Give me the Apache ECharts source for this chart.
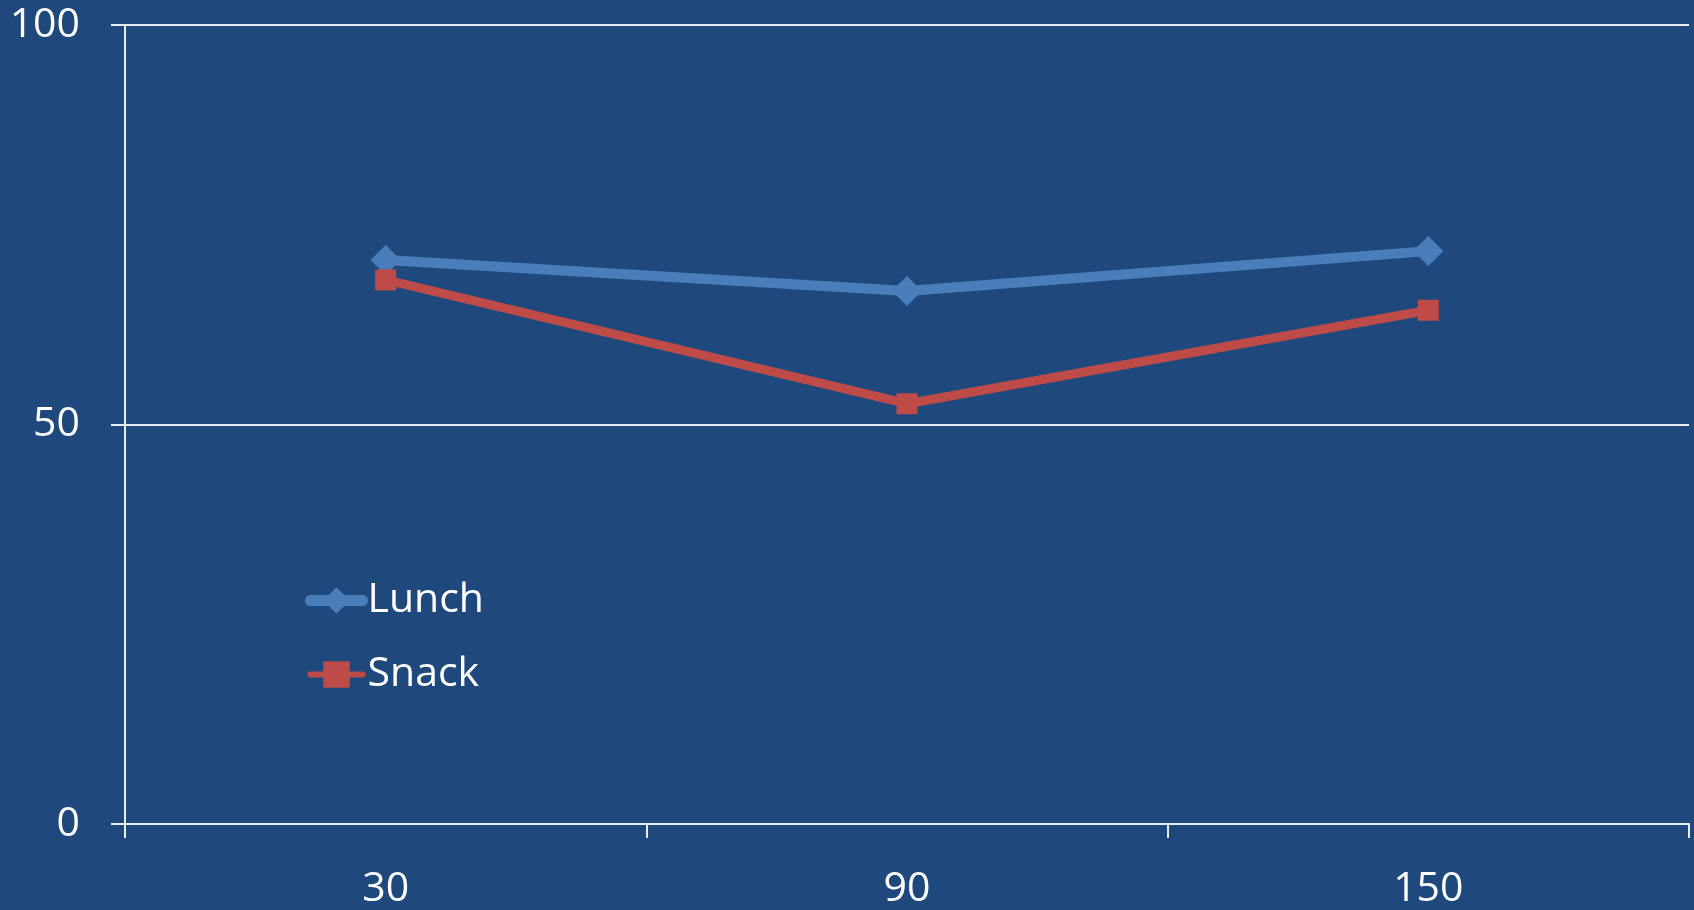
<!DOCTYPE html>
<html>
<head>
<meta charset="utf-8">
<script src="https://cdn.jsdelivr.net/npm/echarts@6/dist/echarts.min.js"></script>
<style>
  html, body { margin: 0; padding: 0; background: #1F497D; }
  #chart { width: 1694px; height: 910px; }
</style>
</head>
<body>
<div id="chart"></div>
<script>
// Minutes after the meal
const categories = ['30', '90', '150'];
// Measured values per meal
const lunchValues = [70.6, 66.7, 71.7];
const snackValues = [68.1, 52.6, 64.3];
// Value axis labels
const yTicks = [0, 50, 100];

const font = '"Open Sans", "Liberation Sans", sans-serif';
const axisColor = '#E8EDF4';
const lunchColor = '#4A7EBB';
const snackColor = '#BE4B48';

const chart = echarts.init(document.getElementById('chart'), null, { renderer: 'canvas' });

chart.setOption({
  backgroundColor: '#1F497D',
  animation: false,
  grid: { left: 125, right: 5, top: 25, bottom: 83 },
  legend: {
    orient: 'vertical',
    left: 300,
    top: 575,
    itemGap: 33,
    itemWidth: 52,
    itemHeight: 33,
    textStyle: { color: '#FFFFFF', fontSize: 41, fontFamily: font },
    data: [
      { name: 'Lunch', lineStyle: { color: lunchColor, width: 11, cap: 'round' } },
      { name: 'Snack', lineStyle: { color: snackColor, width: 6, cap: 'round' } }
    ]
  },
  xAxis: {
    type: 'category',
    data: categories,
    boundaryGap: true,
    axisLine: { lineStyle: { color: axisColor, width: 2 } },
    axisTick: { show: true, length: 14, inside: false, lineStyle: { color: axisColor, width: 2 } },
    axisLabel: { color: '#FFFFFF', fontSize: 41, fontFamily: font, margin: 45 },
    splitLine: { show: false }
  },
  yAxis: {
    type: 'value',
    min: yTicks[0],
    max: yTicks[yTicks.length - 1],
    interval: yTicks[1] - yTicks[0],
    axisLine: { show: true, lineStyle: { color: axisColor, width: 2 } },
    axisTick: { show: true, length: 14, lineStyle: { color: axisColor, width: 2 } },
    axisLabel: { color: '#FFFFFF', fontSize: 41, fontFamily: font, margin: 45 },
    splitLine: { show: true, lineStyle: { color: axisColor, width: 2 } }
  },
  series: [
    {
      name: 'Lunch',
      type: 'line',
      data: lunchValues,
      symbol: 'diamond',
      symbolSize: [30, 30],
      lineStyle: { color: lunchColor, width: 10, cap: 'round' },
      itemStyle: { color: lunchColor },
      z: 3
    },
    {
      name: 'Snack',
      type: 'line',
      data: snackValues,
      symbol: 'rect',
      symbolSize: [21, 21],
      lineStyle: { color: snackColor, width: 9, cap: 'round' },
      itemStyle: { color: snackColor },
      z: 4
    }
  ]
});
</script>
</body>
</html>
